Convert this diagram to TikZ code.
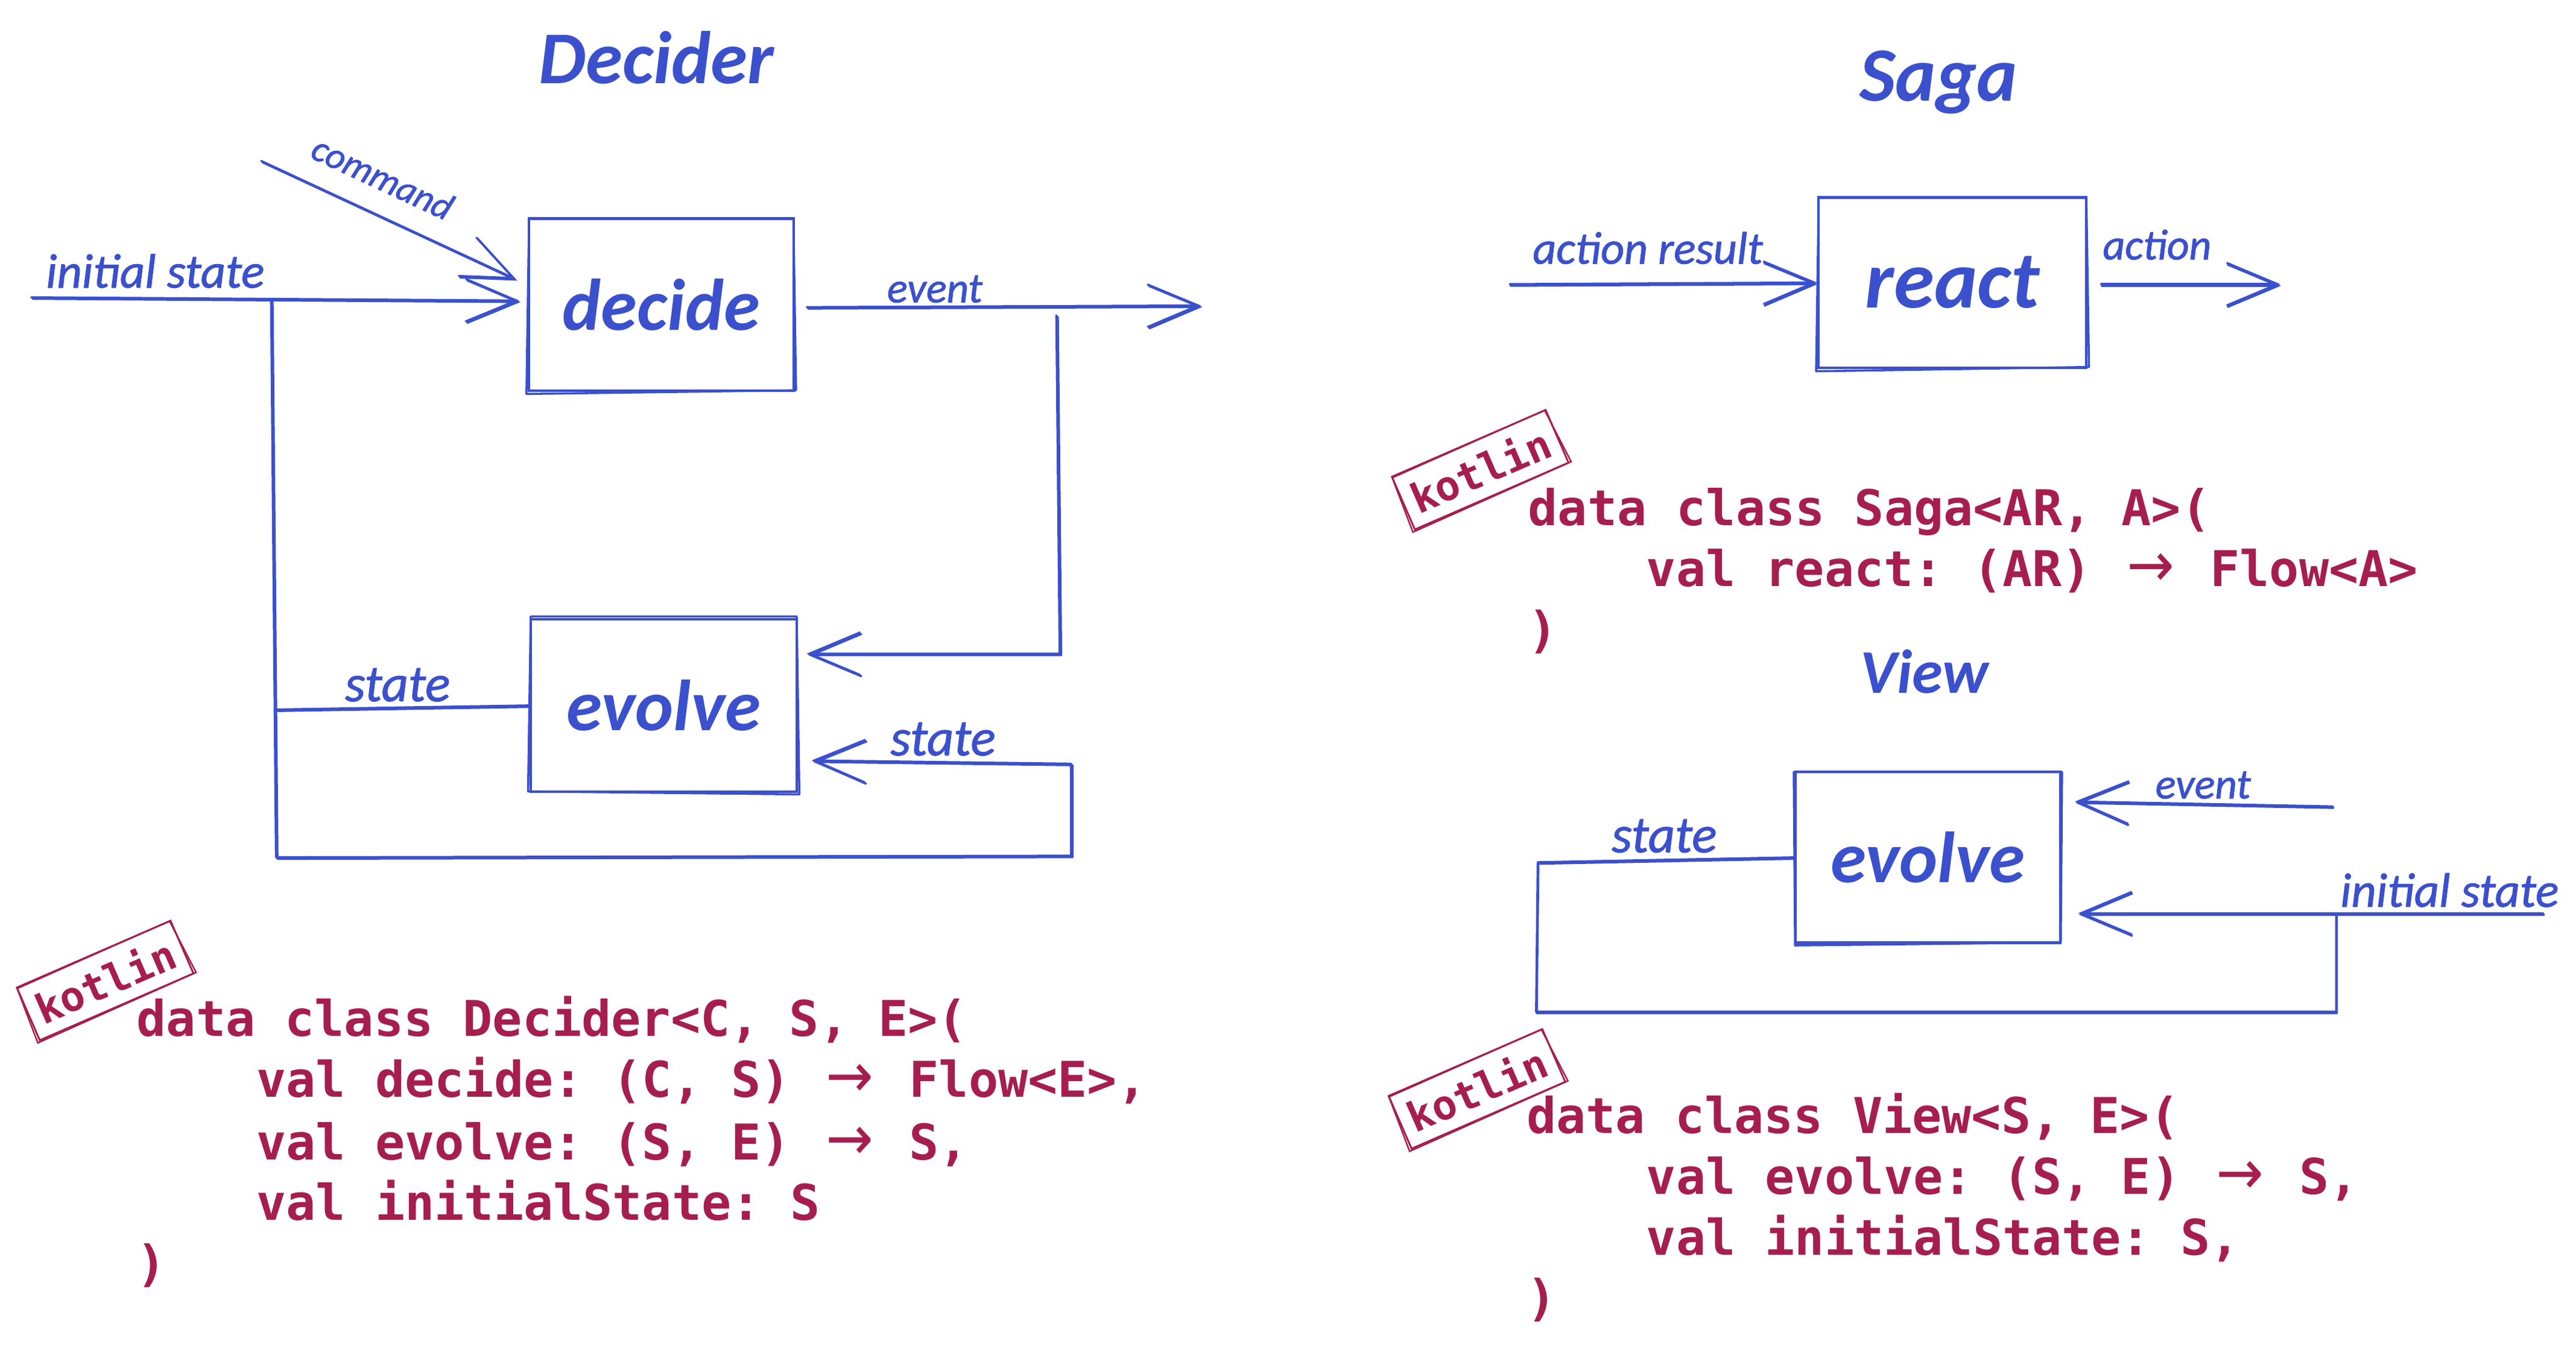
\documentclass[tikz,border=0pt]{standalone}
\usepackage{fontspec}
\usepackage{graphicx}
\usetikzlibrary{arrows.meta}
\newfontfamily\handf{Carlito Italic}[FakeBold=1.2]
\newfontfamily\bighandf{Carlito Bold Italic}
\newfontfamily\codef{DejaVu Sans Mono Bold}
\newfontfamily\arrf{DejaVu Sans}
\definecolor{ink}{HTML}{3B50CC}
\definecolor{codec}{HTML}{A61E4D}
\frenchspacing
\newcommand{\arr}{\makebox[36.1pt][c]{\resizebox{29pt}{20pt}{\arrf →}}}
\newcommand{\hw}[2]{\resizebox{#1pt}{!}{\handf #2}}
\newcommand{\bw}[2]{\resizebox{#1pt}{!}{\bighandf #2}}
\tikzset{
  sk/.style={draw=ink,line width=1.3pt,line cap=round,line join=round},
  skarrow/.style={sk,-{Straight Barb[length=31pt,width=26pt,line width=1.3pt]}},
  skbox/.style={draw=ink,line width=1.5pt,inner sep=0pt,text=ink},
  handlabel/.style={text=ink,inner sep=0pt},
  codeline/.style={anchor=base west,inner sep=0pt,text=codec,font=\codef\fontsize{30}{36}\selectfont},
  tag/.style={draw=codec,line width=1.1pt,inner sep=0pt,text=codec,minimum width=102pt,minimum height=35pt,font=\codef\fontsize{25}{30}\selectfont},
  tagline/.style={draw=codec,line width=.9pt}
}
\newcommand{\sketchbox}[4]{% name, dx, dy, style
  \draw[#4] ([shift={(#2,#3)}]#1.north west) -- ([shift={(-#2,#3)}]#1.north east)
    -- ([shift={(#2,-#3)}]#1.south east) -- ([shift={(-#2,#3)}]#1.south west) -- cycle;}
\begin{document}
\begin{tikzpicture}[x=1pt,y=-1pt]
\useasboundingbox (0,0) rectangle (1568,819.8);
% ---------- Decider ----------
\node[handlabel] (t1) at (399.5,35) {\bw{143}{Decider}};
\node[skbox,minimum width=161pt,minimum height=105pt] (decide) at (402.5,185.5) {\bw{120}{decide}};
\node[skbox,minimum width=162pt,minimum height=105pt] (evolve) at (404,429.5) {\bw{118}{evolve}};
\sketchbox{decide}{.8}{1.1}{sk}
\sketchbox{evolve}{.8}{-.9}{sk}
\coordinate (a1) at (19,181);
\coordinate (a2) at (316,183);
\coordinate (b1) at (159,98);
\coordinate (b2) at (314,170);
\coordinate (c1) at (491,187);
\coordinate (c2) at (731,186);
\coordinate (d1) at (643,192);
\coordinate (d2) at (645,398);
\coordinate (d3) at (491,398);
\coordinate (e1) at (165,182);
\coordinate (e2) at (168,522);
\coordinate (e3) at (652,521);
\coordinate (e4) at (652,465);
\coordinate (e5) at (494,463);
\coordinate (f1) at (168,432);
\foreach \dx/\dy in {0/0,.9/-.9}{
  \begin{scope}[transform canvas={xshift=\dx pt,yshift=\dy pt}]
  \draw[skarrow] (a1) -- (a2);
  \draw[skarrow] (b1) -- (b2);
  \draw[skarrow] (c1) -- (c2);
  \draw[skarrow] (d1) -- (d2) -- (d3);
  \draw[skarrow] (e1) -- (e2) -- (e3) -- (e4) -- (e5);
  \draw[sk] (f1) -- (evolve.west);
  \end{scope}
}
\node[handlabel] (l1) at (94.5,165) {\hw{133}{initial state}};
\node[handlabel,rotate=-25] (l2) at (233,108) {\hw{92}{command}};
\node[handlabel] (l3) at (569,176) {\hw{58}{event}};
\node[handlabel] (l4) at (242,417) {\hw{64}{state}};
\node[handlabel] (l5) at (574,450) {\hw{64}{state}};
\node[tag,rotate=23.5] (k1) at (64,597) {kotlin};
\sketchbox{k1}{.9}{.9}{tagline}
\node[codeline] (c11) at (83,631) {data class Decider<C, S, E>(};
\node[codeline] (c12) at (156,668) {val decide: (C, S) \arr{} Flow<E>,};
\node[codeline] (c13) at (156,706) {val evolve: (S, E) \arr{} S,};
\node[codeline] (c14) at (156,743) {val initialState: S};
\node[codeline] (c15) at (83,780) {)};
% ---------- Saga ----------
\node[handlabel] (t2) at (1180,50) {\bw{96}{Saga}};
\node[skbox,minimum width=163pt,minimum height=104pt] (react) at (1188.5,172) {\bw{106}{react}};
\sketchbox{react}{.8}{1.3}{sk}
\coordinate (g1) at (919,173);
\coordinate (g2) at (1106,172);
\coordinate (h1) at (1279,173);
\coordinate (h2) at (1388,173);
\foreach \dx/\dy in {0/0,.4/-1}{
  \begin{scope}[transform canvas={xshift=\dx pt,yshift=\dy pt}]
  \draw[skarrow] (g1) -- (g2);
  \draw[skarrow] (h1) -- (h2);
  \end{scope}
}
\node[handlabel] (l6) at (1003,151) {\hw{140}{action result}};
\node[handlabel] (l7) at (1313,149) {\hw{66}{action}};
\node[tag,rotate=23.5] (k2) at (901,286) {kotlin};
\sketchbox{k2}{.9}{.9}{tagline}
\node[codeline] (c21) at (930,320) {data class Saga<AR, A>(};
\node[codeline] (c22) at (1002,357) {val react: (AR) \arr{} Flow<A>};
\node[codeline] (c23) at (930,394) {)};
% ---------- View ----------
\node[handlabel] (t3) at (1171.5,409) {\bw{78}{View}};
\node[skbox,minimum width=161pt,minimum height=104pt] (vevolve) at (1173.5,522) {\bw{118}{evolve}};
\sketchbox{vevolve}{-.4}{.9}{sk}
\coordinate (m1) at (1420,491);
\coordinate (m2) at (1263,488);
\coordinate (n1) at (1548,556);
\coordinate (n2) at (1265,556);
\coordinate (o1) at (1422,557);
\coordinate (o2) at (1422,616);
\coordinate (o3) at (935,616);
\coordinate (o4) at (936,525);
\foreach \dx/\dy in {0/0,.4/-.9}{
  \begin{scope}[transform canvas={xshift=\dx pt,yshift=\dy pt}]
  \draw[skarrow] (m1) -- (m2);
  \draw[skarrow] (n1) -- (n2);
  \draw[sk] (o1) -- (o2) -- (o3) -- (o4) -- (vevolve.west);
  \end{scope}
}
\node[handlabel] (l8) at (1341,478) {\hw{58}{event}};
\node[handlabel] (l9) at (1013,509) {\hw{64}{state}};
\node[handlabel] (l10) at (1491,542) {\hw{133}{initial state}};
\node[tag,rotate=23.5] (k3) at (899,663) {kotlin};
\sketchbox{k3}{.9}{.9}{tagline}
\node[codeline] (c31) at (929,690) {data class View<S, E>(};
\node[codeline] (c32) at (1002,727) {val evolve: (S, E) \arr{} S,};
\node[codeline] (c33) at (1002,764) {val initialState: S,};
\node[codeline] (c34) at (929,801) {)};
\end{tikzpicture}
\end{document}
